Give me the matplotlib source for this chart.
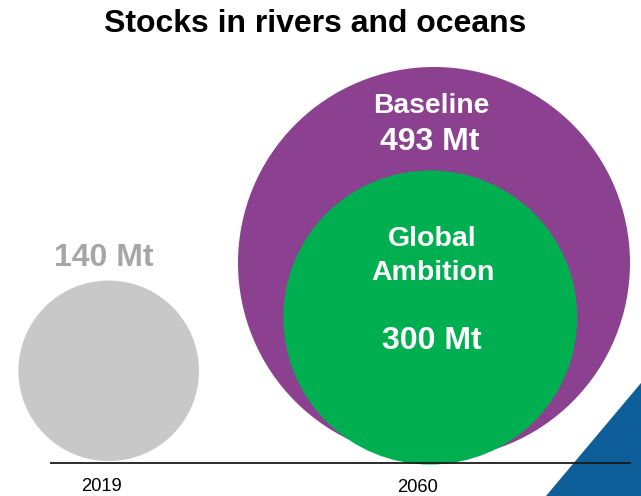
import matplotlib
matplotlib.use("Agg")
import matplotlib.pyplot as plt
from matplotlib.patches import Circle, Polygon

plt.rcParams["font.family"] = ["Liberation Sans", "DejaVu Sans"]

# Data
years = ["2019", "2060"]
scenarios = ["Baseline", "Global", "Ambition"]
stock_2019 = 140          # Mt
stock_2060 = [493, 300]   # Mt: Baseline, Global Ambition
unit = "Mt"

# Layout (canvas pixels, y downward)
W, H = 641, 496
baseline_y = 462.5
radius_2019 = 90.3
centre_2019 = (108.7, 370.8)
radii_2060 = [196, 147]
centres_2060 = [(434, 263), (430.3, 317.5)]
year_label_pos = [(101, 486.5), (418, 488)]

grey = "#C8C8C8"
grey_text = "#A6A6A6"
purple = "#8B4190"
green = "#00B050"
blue = "#0D5E99"

fig = plt.figure(figsize=(W / 100, H / 100), dpi=100)
ax = fig.add_axes([0, 0, 1, 1])
ax.set_xlim(0, W)
ax.set_ylim(H, 0)
ax.axis("off")

# Decorative corner triangle
ax.add_patch(Polygon([(546, H), (W, 383), (W, H)], closed=True,
                     facecolor=blue, edgecolor="none", zorder=1))

# 2019 stock
ax.add_patch(Circle(centre_2019, radius_2019, facecolor=grey,
                    edgecolor="none", zorder=2))
ax.text(104, 258, f"{stock_2019} {unit}", color=grey_text,
        fontsize=23, fontweight="bold", ha="center", va="center", zorder=5)

# 2060 stocks
for (cx, cy), r, col in zip(centres_2060, radii_2060, [purple, green]):
    ax.add_patch(Circle((cx, cy), r, facecolor=col, edgecolor="none", zorder=3))

ax.text(431, 106, scenarios[0], color="white", fontsize=20.3,
        fontweight="bold", ha="center", va="center", zorder=5)
ax.text(430, 142, f"{stock_2060[0]} {unit}", color="white", fontsize=23,
        fontweight="bold", ha="center", va="center", zorder=5)
ax.text(432, 239, scenarios[1], color="white", fontsize=20.5,
        fontweight="bold", ha="center", va="center", zorder=5)
ax.text(433, 273, scenarios[2], color="white", fontsize=20.5,
        fontweight="bold", ha="center", va="center", zorder=5)
ax.text(432, 341, f"{stock_2060[1]} {unit}", color="white", fontsize=23,
        fontweight="bold", ha="center", va="center", zorder=5)

# Ground line and year labels
ax.plot([50, 631], [baseline_y, baseline_y], color="#1a1a1a", lw=1.3,
        solid_capstyle="butt", zorder=4)
for (x, y), yr in zip(year_label_pos, years):
    ax.text(x, y, yr, fontsize=13.2, color="black", ha="center", va="center",
            zorder=5)

# Title
ax.text(315, 24, "Stocks in rivers and oceans", fontsize=23,
        fontweight="bold", ha="center", va="center", color="black")

fig.savefig("out.png", dpi=100)
